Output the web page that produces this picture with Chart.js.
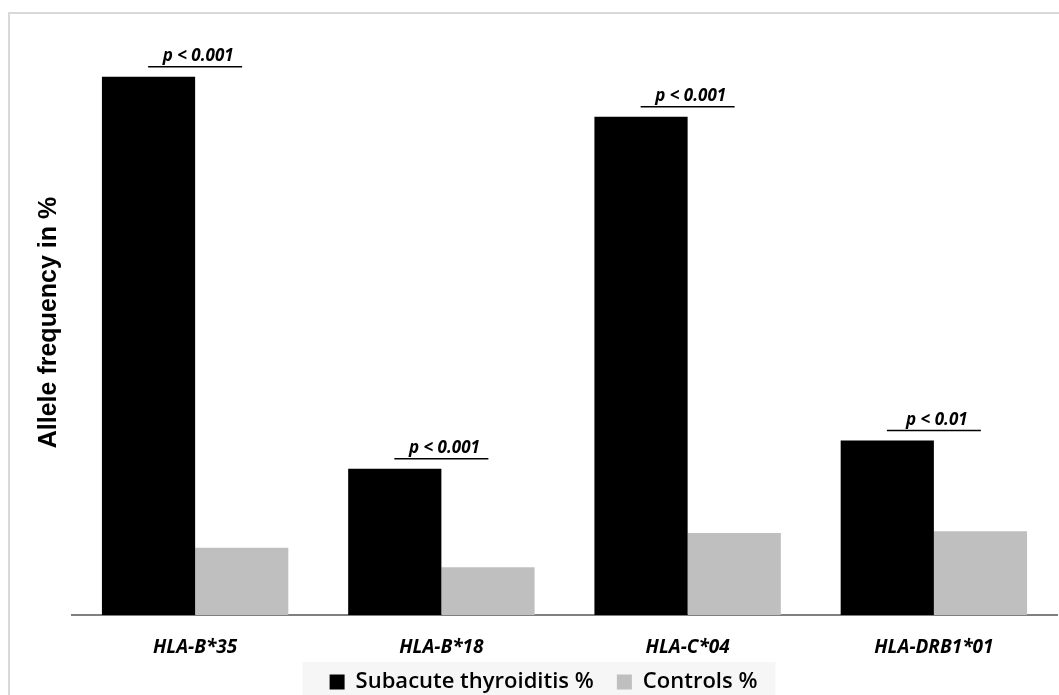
<!DOCTYPE html>
<html>
<head>
<meta charset="utf-8">
<script src="https://cdn.jsdelivr.net/npm/chart.js@4.4.0/dist/chart.umd.min.js"></script>
<style>
  html, body { margin: 0; padding: 0; background: #fff; overflow: hidden; }
  #box { width: 1059px; height: 695px; position: relative; }
</style>
</head>
<body>
<div id="box"><canvas id="grafico"></canvas></div>
<script>
const categorias = ['HLA-B*35', 'HLA-B*18', 'HLA-C*04', 'HLA-DRB1*01'];
const subaguda = [55.2, 15.0, 51.1, 17.9];
const controles = [6.9, 4.9, 8.4, 8.6];
const pValores = ['p < 0.001', 'p < 0.001', 'p < 0.001', 'p < 0.01'];

const fuente = '"Open Sans", "Noto Sans", sans-serif';

// marco gris y fondo de la leyenda
const marco = {
    id: 'marco',
    beforeDraw(chart) {
        const ctx = chart.ctx;
        ctx.save();
        ctx.strokeStyle = '#d9d9d9';
        ctx.lineWidth = 2;
        ctx.beginPath();
        ctx.moveTo(9, 700);
        ctx.lineTo(9, 13);
        ctx.lineTo(1070, 13);
        ctx.stroke();
        const cajas = chart.legend.legendHitBoxes;
        if (cajas && cajas.length) {
            const a = cajas[0];
            const b = cajas[cajas.length - 1];
            ctx.fillStyle = '#f6f6f6';
            ctx.fillRect(a.left - 27, a.top + a.height / 2 - 20, b.left + b.width - a.left + 45, 60);
        }
        ctx.restore();
    }
};

// p-valores sobre cada grupo
const etiquetasP = {
    id: 'etiquetasP',
    afterDatasetsDraw(chart) {
        const ctx = chart.ctx;
        const x = chart.scales.x;
        const y = chart.scales.y;
        ctx.save();
        ctx.fillStyle = '#000';
        ctx.strokeStyle = '#000';
        ctx.lineWidth = 1.5;
        ctx.font = 'italic bold 17px ' + fuente;
        ctx.textAlign = 'center';
        ctx.textBaseline = 'bottom';
        for (let i = 0; i < categorias.length; i++) {
            const cx = x.getPixelForValue(i);
            const top = y.getPixelForValue(subaguda[i]) - 10;
            ctx.beginPath();
            ctx.moveTo(cx - 47, top);
            ctx.lineTo(cx + 47, top);
            ctx.stroke();
            ctx.fillText(pValores[i], cx + 3, top - 2);
        }
        ctx.restore();
    }
};

const data = {
    labels: categorias,
    datasets: [
        {
            label: 'Subacute thyroiditis %',
            data: subaguda,
            backgroundColor: '#000000',
            borderWidth: 0
        },
        {
            label: 'Controls %',
            data: controles,
            backgroundColor: '#bfbfbf',
            borderWidth: 0
        }
    ]
};

const config = {
    type: 'bar',
    data,
    options: {
        responsive: true,
        maintainAspectRatio: false,
        animation: false,
        layout: { padding: { top: 30, left: 30, right: 2, bottom: -8 } },
        datasets: {
            bar: { categoryPercentage: 0.757, barPercentage: 1.0 }
        },
        plugins: {
            legend: {
                position: 'bottom',
                labels: {
                    color: '#000',
                    font: { family: fuente, size: 22, weight: '600' },
                    boxWidth: 15,
                    boxHeight: 15,
                    padding: 6,
                    generateLabels(chart) {
                        const items = Chart.defaults.plugins.legend.labels.generateLabels(chart);
                        // un poco mas de aire entre las dos entradas
                        items.forEach((it, i) => { if (i < items.length - 1) it.text += '   '; });
                        return items;
                    }
                }
            },
            tooltip: { enabled: false }
        },
        scales: {
            x: {
                grid: { display: false },
                border: { display: true, color: '#7f7f7f', width: 2 },
                ticks: {
                    color: '#000',
                    padding: 13,
                    font: { family: fuente, size: 19, style: 'italic', weight: 'bold' }
                },
                afterFit(scale) { scale.height = 50; }
            },
            y: {
                min: 0,
                max: 60,
                grid: { display: false },
                border: { display: false },
                ticks: { display: false },
                title: {
                    display: true,
                    text: 'Allele frequency in %',
                    color: '#000',
                    font: { family: '"Liberation Sans", Arial, sans-serif', size: 25, weight: 'bold' },
                    padding: { top: 4, bottom: 0 }
                }
            }
        }
    },
    plugins: [marco, etiquetasP]
};

let miGrafico = new Chart(document.getElementById('grafico'), config);
</script>
</body>
</html>
